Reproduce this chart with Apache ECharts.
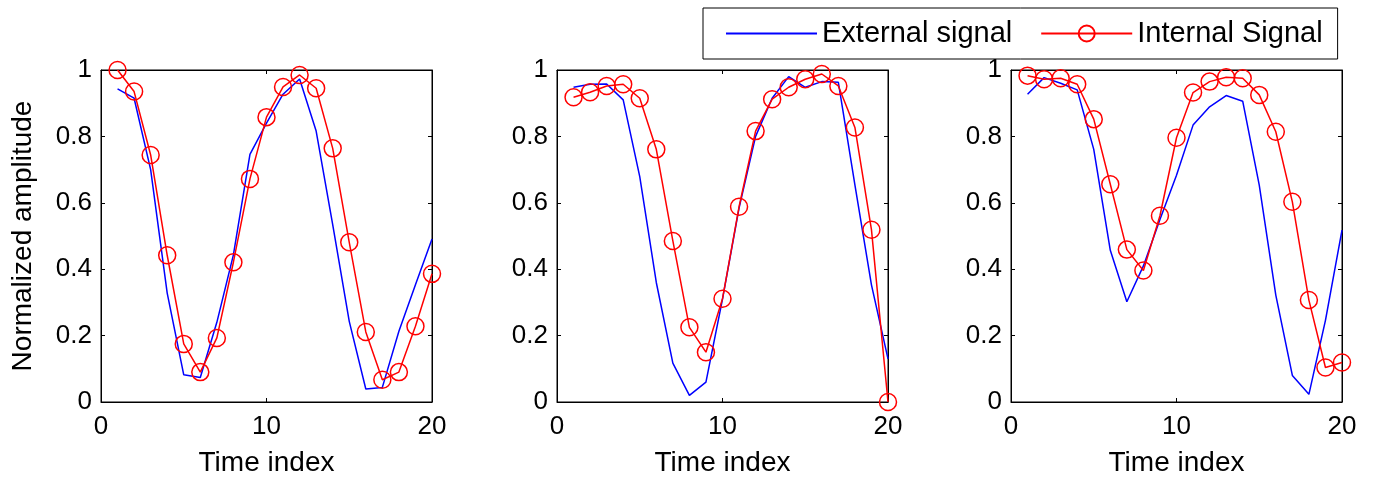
<!DOCTYPE html>
<html>
<head>
<meta charset="utf-8">
<script src="https://cdn.jsdelivr.net/npm/echarts@6/dist/echarts.min.js"></script>
<style>
html,body{margin:0;padding:0;background:#fff;}
#chart{width:1374px;height:483px;}
</style>
</head>
<body>
<div id="chart"></div>
<script>
const timeIndex = [1,2,3,4,5,6,7,8,9,10,11,12,13,14,15,16,17,18,19,20];
const xTicks = [0, 10, 20];
const yTicks = [0, 0.2, 0.4, 0.6, 0.8, 1];

const external1 = [0.943,0.915,0.70,0.328,0.082,0.074,0.24,0.443,0.746,0.84,0.927,0.973,0.816,0.534,0.243,0.039,0.044,0.213,0.353,0.491];
const internal1 = [1.0,0.935,0.744,0.442,0.175,0.09,0.193,0.421,0.672,0.858,0.949,0.985,0.945,0.764,0.481,0.211,0.067,0.09,0.228,0.386];

const external2 = [0.948,0.957,0.958,0.91,0.679,0.36,0.117,0.02,0.06,0.31,0.584,0.80,0.915,0.98,0.948,0.965,0.963,0.654,0.353,0.13];
const internal2 = [0.918,0.933,0.952,0.957,0.915,0.761,0.485,0.225,0.150,0.311,0.588,0.816,0.912,0.948,0.972,0.988,0.952,0.827,0.519,0.0];

const external3 = [0.927,0.977,0.96,0.94,0.761,0.457,0.302,0.41,0.55,0.683,0.834,0.889,0.923,0.906,0.653,0.322,0.08,0.023,0.246,0.518];
const internal3 = [0.983,0.972,0.975,0.957,0.852,0.656,0.459,0.396,0.561,0.796,0.932,0.965,0.978,0.975,0.925,0.814,0.603,0.307,0.104,0.119];

const externalSets = [external1, external2, external3];
const internalSets = [internal1, internal2, internal3];

const FONT = 'Liberation Sans, Arial, sans-serif';
const gridLefts = [101, 557, 1011];
const grids = gridLefts.map(l => ({left: l, top: 70, width: 331, height: 332, show: true, borderColor: '#000', borderWidth: 1, backgroundColor: 'transparent'}));

const xAxes = [], yAxes = [], series = [];
const pair = arr => timeIndex.map((t, i) => [t, arr[i]]);

gridLefts.forEach((l, g) => {
  xAxes.push({
    type: 'value', gridIndex: g, min: xTicks[0], max: xTicks[xTicks.length-1], interval: xTicks[1]-xTicks[0],
    position: 'bottom',
    name: 'Time index', nameLocation: 'middle', nameGap: 47,
    nameTextStyle: {fontFamily: FONT, fontSize: 28, color: '#000'},
    axisLine: {show: true, onZero: false, lineStyle: {color: '#000', width: 1}},
    axisTick: {show: true, inside: true, length: 4, lineStyle: {color: '#000'}},
    axisLabel: {fontFamily: FONT, fontSize: 26, color: '#000', margin: 12},
    splitLine: {show: false}
  });
  xAxes.push({
    type: 'value', gridIndex: g, min: xTicks[0], max: xTicks[xTicks.length-1], interval: xTicks[1]-xTicks[0],
    position: 'top',
    axisLine: {show: true, onZero: false, lineStyle: {color: '#000', width: 1}},
    axisTick: {show: true, inside: true, length: 4, lineStyle: {color: '#000'}},
    axisLabel: {show: false}, splitLine: {show: false}
  });
  yAxes.push({
    type: 'value', gridIndex: g, min: yTicks[0], max: yTicks[yTicks.length-1], interval: 0.2,
    position: 'left',
    name: g === 0 ? 'Normalized amplitude' : '', nameLocation: 'middle', nameGap: 64,
    nameTextStyle: {fontFamily: FONT, fontSize: 28, color: '#000'},
    axisLine: {show: true, onZero: false, lineStyle: {color: '#000', width: 1}},
    axisTick: {show: true, inside: true, length: 4, lineStyle: {color: '#000'}},
    axisLabel: {fontFamily: FONT, fontSize: 26, color: '#000', margin: 9,
      formatter: v => String(Math.round(v * 10) / 10)},
    splitLine: {show: false}
  });
  yAxes.push({
    type: 'value', gridIndex: g, min: yTicks[0], max: yTicks[yTicks.length-1], interval: 0.2,
    position: 'right',
    axisLine: {show: true, onZero: false, lineStyle: {color: '#000', width: 1}},
    axisTick: {show: true, inside: true, length: 4, lineStyle: {color: '#000'}},
    axisLabel: {show: false}, splitLine: {show: false}
  });
  series.push({
    name: 'External signal', type: 'line', xAxisIndex: g * 2, yAxisIndex: g * 2,
    data: pair(externalSets[g]), symbol: 'none', clip: false,
    lineStyle: {color: '#0000ff', width: 1.5}, itemStyle: {color: '#0000ff'}, animation: false
  });
  series.push({
    name: 'Internal Signal', type: 'line', xAxisIndex: g * 2, yAxisIndex: g * 2,
    data: pair(internalSets[g]), symbol: 'circle', symbolSize: 17, clip: false,
    lineStyle: {color: '#ff0000', width: 1.5},
    itemStyle: {color: 'transparent', borderColor: '#ff0000', borderWidth: 1.5}, animation: false
  });
});

const chart = echarts.init(document.getElementById('chart'), null, {renderer: 'canvas'});
chart.setOption({
  backgroundColor: '#fff',
  animation: false,
  grid: grids,
  xAxis: xAxes,
  yAxis: yAxes,
  legend: {
    left: 703, top: 8,
    data: [
      {name: 'External signal', itemStyle: {color: 'transparent', borderColor: 'transparent', borderWidth: 0, opacity: 0}},
      {name: 'Internal Signal'}
    ],
    borderColor: '#000', borderWidth: 1, backgroundColor: '#fff',
    padding: [11, 15, 11, 22],
    itemWidth: 91, itemHeight: 20, itemGap: 28,
    textStyle: {fontFamily: FONT, fontSize: 29, color: '#000'}
  },
  series: series
});
</script>
</body>
</html>
